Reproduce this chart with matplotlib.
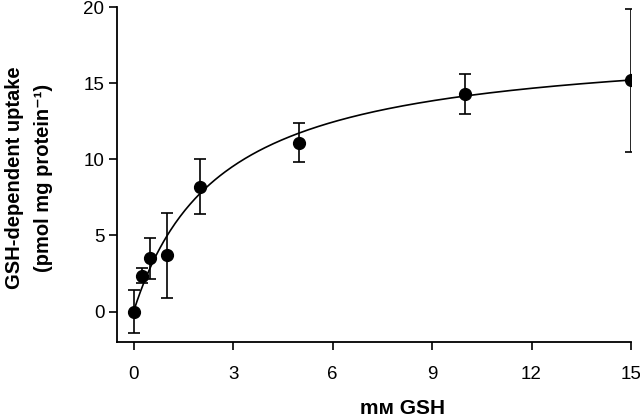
import numpy as np
import matplotlib
matplotlib.use("Agg")
import matplotlib.pyplot as plt

plt.rcParams['font.family'] = ['Liberation Sans', 'DejaVu Sans']
plt.rcParams['mathtext.default'] = 'regular'

# data (mM GSH vs uptake)
gsh = [0, 0.25, 0.5, 1, 2, 5, 10, 15]
uptake = [0.0, 2.35, 3.5, 3.7, 8.2, 11.1, 14.3, 15.2]
err = [1.4, 0.5, 1.35, 2.8, 1.8, 1.3, 1.3, 4.7]

# Michaelis-Menten fit parameters
vmax = 17.85
km = 2.61

xticks = [0, 3, 6, 9, 12, 15]
yticks = [0, 5, 10, 15, 20]

fig = plt.figure(figsize=(6.4, 4.18), dpi=100)
ax = fig.add_axes([117/640, 1 - 342/418, (631 - 117)/640, (342 - 7)/418])

xf = np.linspace(0, 15, 300)
ax.plot(xf, vmax * xf / (km + xf), color='black', lw=1.2, zorder=2)
ax.errorbar(gsh, uptake, yerr=err, fmt='o', color='black', ms=8.5,
            ecolor='black', elinewidth=1.2, capsize=4.5, capthick=1.2, zorder=3)

ax.set_xlim(-0.5, 15)
ax.set_ylim(-2, 20)
ax.set_xticks(xticks)
ax.set_yticks(yticks)
ax.spines['top'].set_visible(False)
ax.spines['right'].set_visible(False)
for s in ['left', 'bottom']:
    ax.spines[s].set_linewidth(1.3)
ax.tick_params(axis='both', direction='out', length=6, width=1.2, labelsize=13.5)
ax.tick_params(axis='x', pad=11)
ax.tick_params(axis='y', pad=3)

fig.text(29/640, 1 - 178/418, 'GSH-dependent uptake\n(pmol mg protein⁻¹)',
         rotation=90, ha='center', va='center', fontsize=14.5, fontweight='bold',
         linespacing=1.65, multialignment='center')

fig.text(403/640, 1 - 399/418, 'mᴍ GSH', ha='center', va='top',
         fontsize=15, fontweight='bold')

fig.savefig('out.png', dpi=100)
